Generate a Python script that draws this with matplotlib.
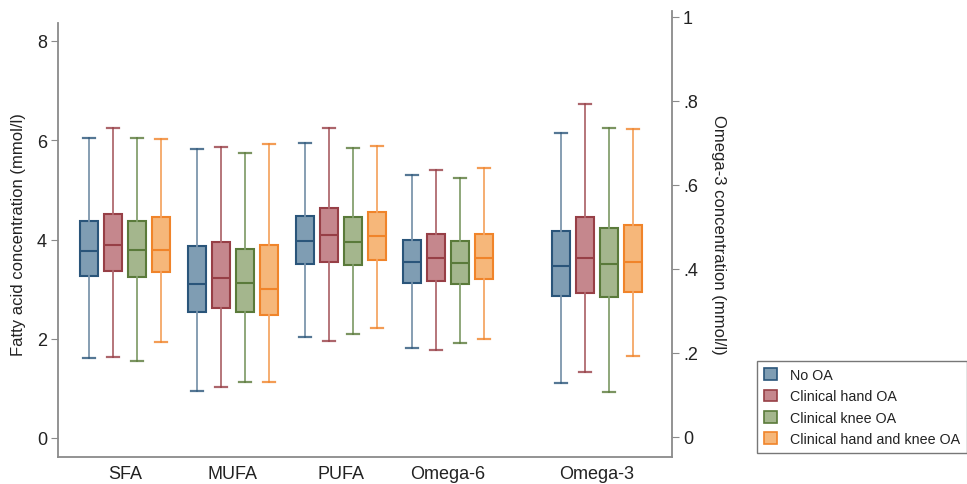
import matplotlib
matplotlib.use("Agg")
import matplotlib.pyplot as plt
from matplotlib.patches import Patch

plt.rcParams['font.family'] = ['Liberation Sans', 'DejaVu Sans']

groups = ["SFA", "MUFA", "PUFA", "Omega-6"]
right_group = "Omega-3"
series = ["No OA", "Clinical hand OA", "Clinical knee OA", "Clinical hand and knee OA"]

# per series: lists over groups (SFA, MUFA, PUFA, Omega-6)
whislo = {
    "No OA": [1.61, 0.94, 2.04, 1.82],
    "Clinical hand OA": [1.63, 1.02, 1.96, 1.77],
    "Clinical knee OA": [1.56, 1.12, 2.10, 1.91],
    "Clinical hand and knee OA": [1.94, 1.12, 2.22, 1.99],
}
q1 = {
    "No OA": [3.26, 2.54, 3.50, 3.12],
    "Clinical hand OA": [3.36, 2.61, 3.55, 3.17],
    "Clinical knee OA": [3.24, 2.54, 3.49, 3.11],
    "Clinical hand and knee OA": [3.34, 2.48, 3.59, 3.21],
}
med = {
    "No OA": [3.76, 3.10, 3.97, 3.55],
    "Clinical hand OA": [3.88, 3.22, 4.09, 3.63],
    "Clinical knee OA": [3.78, 3.12, 3.95, 3.53],
    "Clinical hand and knee OA": [3.78, 3.01, 4.08, 3.62],
}
q3 = {
    "No OA": [4.37, 3.86, 4.47, 3.98],
    "Clinical hand OA": [4.51, 3.95, 4.64, 4.12],
    "Clinical knee OA": [4.38, 3.80, 4.45, 3.96],
    "Clinical hand and knee OA": [4.46, 3.89, 4.56, 4.12],
}
whishi = {
    "No OA": [6.04, 5.83, 5.94, 5.29],
    "Clinical hand OA": [6.24, 5.87, 6.25, 5.40],
    "Clinical knee OA": [6.05, 5.75, 5.85, 5.24],
    "Clinical hand and knee OA": [6.03, 5.93, 5.88, 5.44],
}
# Omega-3 (right axis), per series: [whislo, q1, med, q3, whishi]
omega3 = {
    "No OA": [0.129, 0.335, 0.407, 0.491, 0.724],
    "Clinical hand OA": [0.154, 0.343, 0.426, 0.524, 0.792],
    "Clinical knee OA": [0.108, 0.333, 0.411, 0.498, 0.736],
    "Clinical hand and knee OA": [0.194, 0.346, 0.416, 0.505, 0.734],
}

left_ticks = [0, 2, 4, 6, 8]
right_ticks = [0, 0.2, 0.4, 0.6, 0.8, 1.0]
right_ticklabels = ["0", ".2", ".4", ".6", ".8", "1"]

edge_colors = ["#2a557a", "#973f46", "#5a7a3a", "#f0842a"]
fill_colors = ["#7f9db3", "#c5878d", "#a4b68d", "#f6b77a"]
whisk_colors = ["#7d96ad", "#b06a70", "#86a070", "#f5a766"]

W, H = 967, 485
fig = plt.figure(figsize=(W / 100, H / 100), dpi=100)
x0, x1, ytop, ybot = 58, 672, 12, 458
ax = fig.add_axes([x0 / W, 1 - ybot / H, (x1 - x0) / W, (ybot - ytop) / H])
ax2 = ax.twinx()

group_centers = [125, 233, 341, 448]
right_center = 597
offsets = [-36, -12, 12, 36]
bw = 18
capw = 12

def draw(axis, stats, positions, i):
    axis.bxp(stats, positions=positions, widths=bw, capwidths=capw,
             showfliers=False, patch_artist=True, manage_ticks=False,
             boxprops=dict(facecolor=fill_colors[i], edgecolor=edge_colors[i], linewidth=1.5),
             medianprops=dict(color=edge_colors[i], linewidth=1.5),
             whiskerprops=dict(color=whisk_colors[i], linewidth=1.3),
             capprops=dict(color=edge_colors[i], linewidth=1.6, alpha=0.8))

for i, s in enumerate(series):
    stats = []
    for g in range(len(groups)):
        stats.append(dict(whislo=whislo[s][g], q1=q1[s][g], med=med[s][g],
                          q3=q3[s][g], whishi=whishi[s][g], fliers=[]))
    draw(ax, stats, [c + offsets[i] for c in group_centers], i)
    o = omega3[s]
    draw(ax2, [dict(whislo=o[0], q1=o[1], med=o[2], q3=o[3], whishi=o[4], fliers=[])],
         [right_center + offsets[i]], i)

ax.set_xlim(x0, x1)
# left: 0 at y=439, 8 at y=42
lpp = (439 - 42) / 8.0
ax.set_ylim(-(ybot - 439) / lpp, 8 + (42 - ytop) / lpp)
rpp = (438 - 18) / 1.0
ax2.set_ylim(-(ybot - 438) / rpp, 1 + (18 - ytop) / rpp)

grey = "#8a8a8a"
ax.set_yticks(left_ticks)
ax.set_yticklabels([str(t) for t in left_ticks])
ax2.set_yticks(right_ticks)
ax2.set_yticklabels(right_ticklabels)
for a in (ax, ax2):
    for sp in a.spines.values():
        sp.set_color(grey)
        sp.set_linewidth(1.3)
    a.spines['top'].set_visible(False)
ax2.spines['left'].set_visible(False)
ax.spines['right'].set_visible(False)
ax2.spines['bottom'].set_visible(False)
ax.spines['left'].set_bounds(-(ybot - 439) / lpp, 8 + (42 - 24) / lpp)

ax.tick_params(axis='y', length=5, color=grey, labelsize=13, pad=3, labelcolor="#222222")
ax2.tick_params(axis='y', length=5, color=grey, labelsize=13, pad=3, labelcolor="#222222")
ax.set_xticks(group_centers + [right_center])
ax.set_xticklabels(groups + [right_group])
ax.tick_params(axis='x', length=0, labelsize=13, pad=6, labelcolor="#222222")

ax.set_ylabel("Fatty acid concentration (mmol/l)", fontsize=12, labelpad=8, color="#222222")
ax2.set_ylabel("Omega-3 concentration (mmol/l)", fontsize=12, rotation=270,
               labelpad=20, color="#222222")

handles = [Patch(facecolor=fill_colors[i], edgecolor=edge_colors[i], linewidth=1.2, label=s)
           for i, s in enumerate(series)]
leg = fig.legend(handles=handles, loc='center left',
                 bbox_to_anchor=(757 / W, 1 - 408 / H),
                 fontsize=10.3, frameon=True, fancybox=False,
                 edgecolor="#555555", handlelength=0.9, handleheight=0.9,
                 handletextpad=0.9, labelspacing=0.5, borderpad=0.5,
                 borderaxespad=0.0)
leg.get_frame().set_linewidth(1.0)
for t in leg.get_texts():
    t.set_color("#222222")

fig.savefig("out.png", dpi=100)
